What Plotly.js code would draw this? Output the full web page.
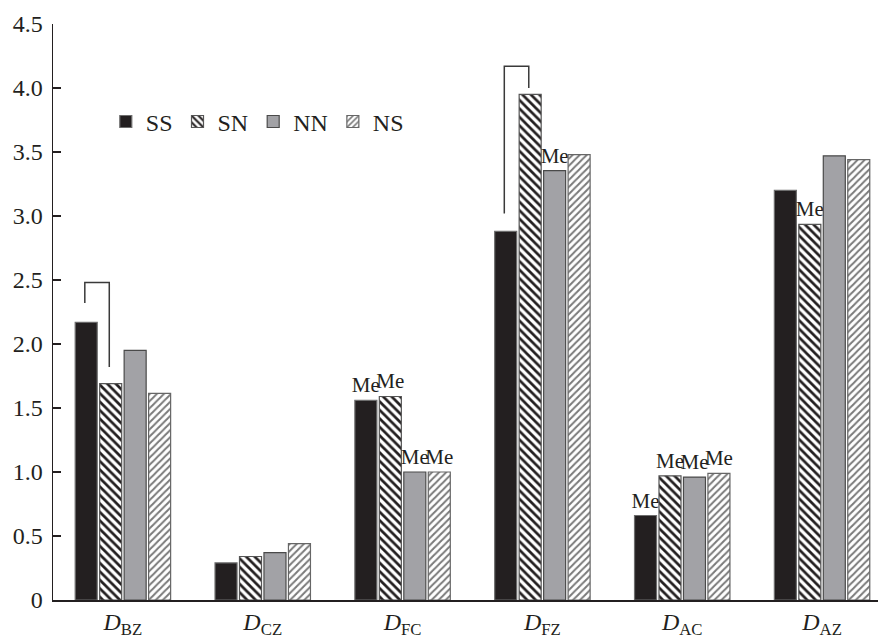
<!DOCTYPE html>
<html>
<head>
<meta charset="utf-8">
<script src="https://cdn.plot.ly/plotly-3.0.1.min.js"></script>
<style>html,body{margin:0;padding:0;background:#fff;}#chart{width:878px;height:639px;}</style>
</head>
<body>
<div id="chart"></div>
<script>
// ---- data ----
const categories = ['<i>D</i><sub>BZ</sub>', '<i>D</i><sub>CZ</sub>', '<i>D</i><sub>FC</sub>', '<i>D</i><sub>FZ</sub>', '<i>D</i><sub>AC</sub>', '<i>D</i><sub>AZ</sub>'];
const seriesNames = ['SS', 'SN', 'NN', 'NS'];
const valuesSS = [2.17, 0.29, 1.56, 2.88, 0.66, 3.20];
const valuesSN = [1.69, 0.34, 1.59, 3.95, 0.97, 2.935];
const valuesNN = [1.95, 0.37, 1.00, 3.355, 0.96, 3.47];
const valuesNS = [1.615, 0.44, 1.00, 3.48, 0.99, 3.44];
const labelsSS = ['', '', 'Me', '', 'Me', ''];
const labelsSN = ['', '', 'Me', '', 'Me', 'Me'];
const labelsNN = ['', '', 'Me', 'Me', 'Me', ''];
const labelsNS = ['', '', 'Me', '', 'Me', ''];
const yTickVals = [0, 0.5, 1, 1.5, 2, 2.5, 3, 3.5, 4, 4.5];
const yTickText = ['0', '0.5', '1.0', '1.5', '2.0', '2.5', '3.0', '3.5', '4.0', '4.5'];
// significance brackets (between SS and SN of a category)
const bracketCategory = [0, 3];
const bracketTop = [2.48, 4.17];
const bracketLeftEnd = [2.32, 3.02];
const bracketRightEnd = [1.82, 4.00];

// ---- styles ----
const FONT = 'Liberation Serif';
const INK = '#231f20';
const bargap = 0.3, bargroupgap = 0.1;
const nSeries = 4;
const slot = (1 - bargap) / nSeries;
function slotOffset(i) { return -(1 - bargap) / 2 + slot * (i + 0.5); }

const styles = [
  {color: INK, line: '#6d6d6d', pattern: {shape: ''}},
  {color: '#ffffff', line: '#555555', pattern: {shape: '\\', fgcolor: INK, bgcolor: '#ffffff', size: 6, solidity: 0.45, fillmode: 'replace'}},
  {color: '#a2a2a6', line: '#4a4a4a', pattern: {shape: ''}},
  {color: '#ffffff', line: '#666666', pattern: {shape: '/', fgcolor: '#7a7a7a', bgcolor: '#ffffff', size: 5, solidity: 0.4, fillmode: 'replace'}}
];
const allValues = [valuesSS, valuesSN, valuesNN, valuesNS];
const allLabels = [labelsSS, labelsSN, labelsNN, labelsNS];

const traces = seriesNames.map((name, i) => ({
  type: 'bar',
  name: name,
  x: categories,
  y: allValues[i],
  text: allLabels[i],
  textposition: 'outside',
  constraintext: 'none',
  cliponaxis: false,
  textfont: {family: FONT, size: 21, color: INK},
  marker: {color: styles[i].color, line: {color: styles[i].line, width: 1.2}, pattern: styles[i].pattern},
  hoverinfo: 'skip'
}));

const shapes = [];
bracketCategory.forEach((c, k) => {
  const xl = c + slotOffset(0) - 0.01;
  const xr = c + slotOffset(1) - 0.01;
  shapes.push({
    type: 'path', xref: 'x', yref: 'y',
    path: `M ${xl},${bracketLeftEnd[k]} L ${xl},${bracketTop[k]} L ${xr},${bracketTop[k]} L ${xr},${bracketRightEnd[k]}`,
    line: {color: '#3a3a3a', width: 1.5}
  });
});

const layout = {
  width: 878, height: 639,
  margin: {l: 53, r: 0, t: 24, b: 39, pad: 0},
  paper_bgcolor: '#ffffff', plot_bgcolor: '#ffffff',
  font: {family: FONT, color: INK, size: 22},
  barmode: 'group', bargap: bargap, bargroupgap: bargroupgap,
  showlegend: true,
  legend: {
    orientation: 'h', x: 0.064, y: 0.83, xanchor: 'left', yanchor: 'middle',
    font: {family: FONT, size: 24, color: INK},
    bgcolor: 'rgba(0,0,0,0)', itemclick: false, tracegroupgap: 0
  },
  xaxis: {
    type: 'category', range: [-0.5, 5.4], fixedrange: true,
    showline: true, linecolor: INK, linewidth: 1.5,
    ticks: '', showgrid: false, zeroline: false,
    tickfont: {family: FONT, size: 24, color: INK}
  },
  yaxis: {
    range: [0, 4.5], fixedrange: true,
    showline: true, linecolor: INK, linewidth: 1.5,
    ticks: 'inside', ticklen: 8, tickcolor: INK, tickwidth: 1.2,
    tickvals: yTickVals, ticktext: yTickText,
    showgrid: false, zeroline: false,
    tickfont: {family: FONT, size: 24, color: INK},
    ticklabelstandoff: 4
  },
  shapes: shapes
};

Plotly.newPlot('chart', traces, layout, {displayModeBar: false, staticPlot: true});
</script>
</body>
</html>
